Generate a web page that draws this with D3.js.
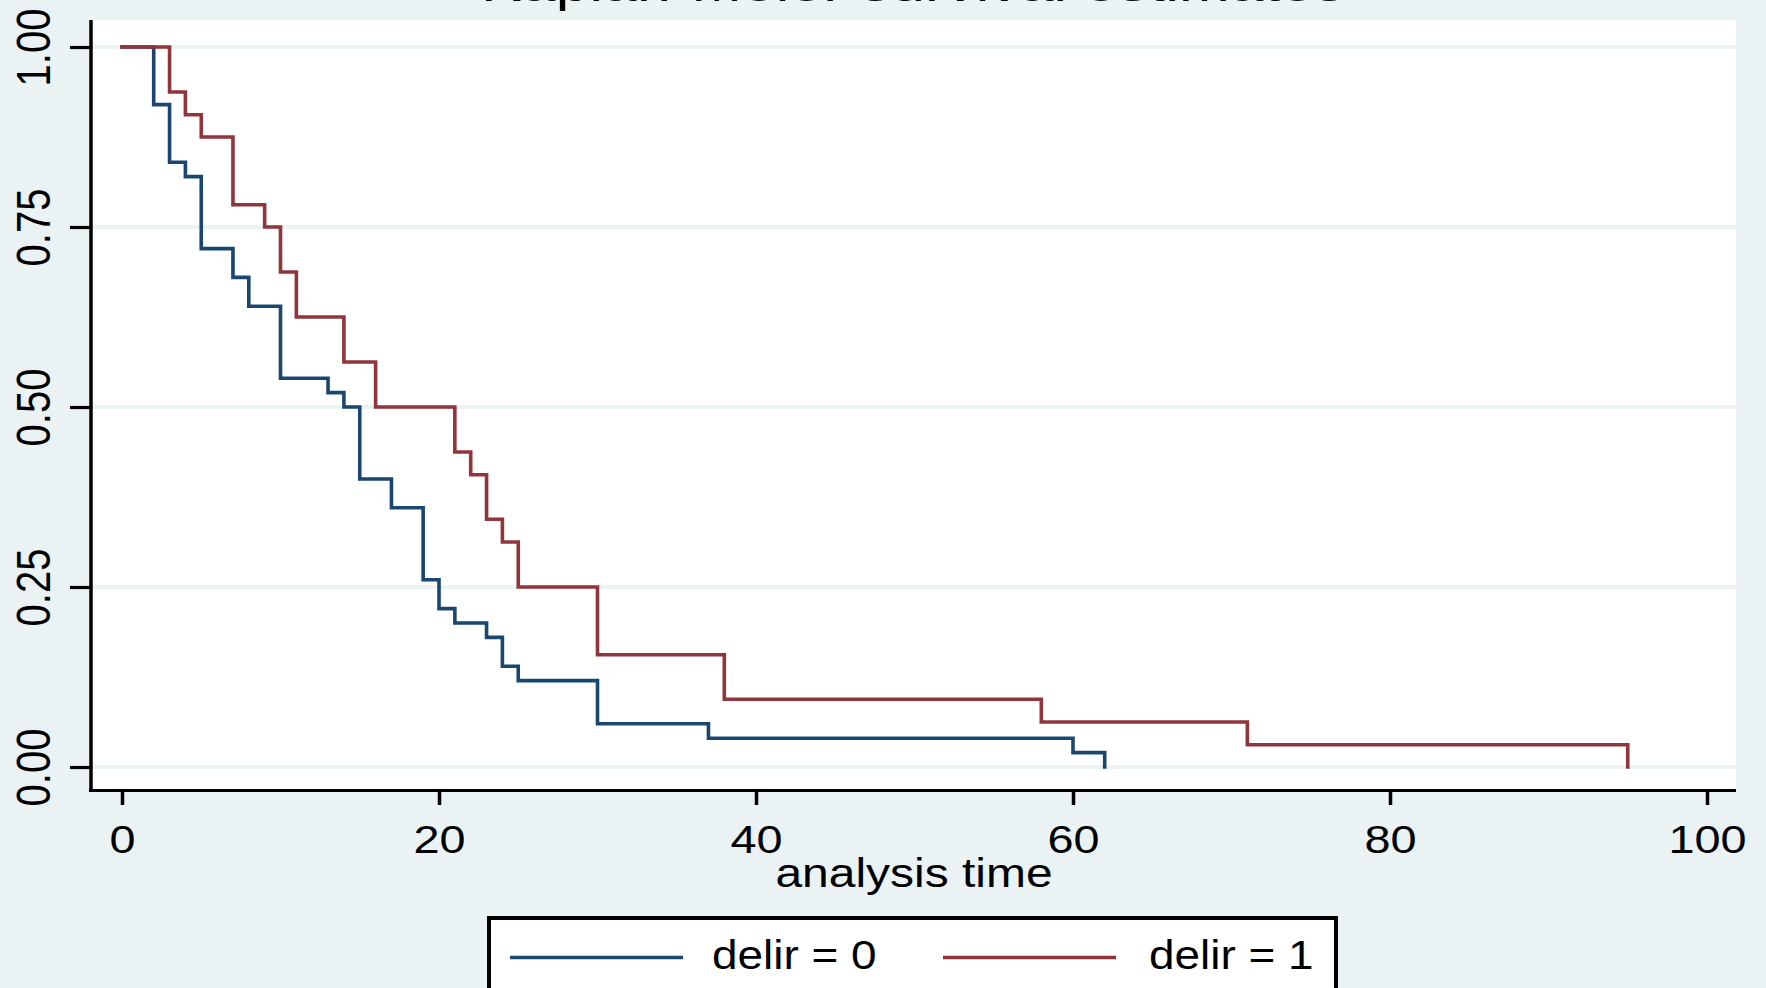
<!DOCTYPE html>
<html><head><meta charset="utf-8">
<script src="https://cdn.jsdelivr.net/npm/d3@7"></script>
<style>html,body{margin:0;padding:0;background:#EAF2F3;} svg{display:block}</style>
</head><body><svg id="c" width="1766" height="988"></svg>
<script>
// ---- data ----
const timesDelir0 = [0, 2, 3, 4, 5, 7, 8, 10, 13, 14, 15, 17, 19, 20, 21, 23, 24, 25, 30, 37, 60, 62];
const survDelir0  = [1, 0.92, 0.84, 0.82, 0.72, 0.68, 0.64, 0.54, 0.52, 0.50, 0.40, 0.36, 0.26, 0.22, 0.20, 0.18, 0.14, 0.12, 0.06, 0.04, 0.02, 0];
const timesDelir1 = [0, 3, 4, 5, 7, 9, 10, 11, 14, 16, 21, 22, 23, 24, 25, 30, 38, 58, 71, 95];
const survDelir1  = [1, 0.9375, 0.906, 0.875, 0.781, 0.75, 0.6875, 0.625, 0.5625, 0.5, 0.4375, 0.406, 0.344, 0.3125, 0.25, 0.156, 0.094, 0.0625, 0.031, 0];
const seriesLabels = ["delir = 0", "delir = 1"];
const xTicks = [0, 20, 40, 60, 80, 100];
const yTicks = [0, 0.25, 0.5, 0.75, 1];
const titleText = "Kaplan-Meier survival estimates";
const xTitle = "analysis time";

// ---- layout ----
const W = 1766, H = 988;
const bg = "#EAF2F3";
const plot = {left: 92, right: 1736, top: 20, bottom: 790};
const colors = ["#1a476f", "#90353b"];
const font = "'Liberation Sans', Arial, Helvetica, sans-serif";

const svg = d3.select("#c");
svg.append("rect").attr("width", W).attr("height", H).attr("fill", bg);
svg.append("rect").attr("x", plot.left).attr("y", plot.top)
  .attr("width", plot.right - plot.left).attr("height", plot.bottom - plot.top).attr("fill", "#fff");

const x = d3.scaleLinear().domain([0, 100]).range([122, 1707]);
const y = d3.scaleLinear().domain([0, 1]).range([767, 47]);

// grid
svg.append("g").selectAll("line").data(yTicks).join("line")
  .attr("x1", plot.left).attr("x2", plot.right)
  .attr("y1", d => y(d)).attr("y2", d => y(d))
  .attr("stroke", bg).attr("stroke-width", 4);

// curves
const series = [
  timesDelir0.map((t, i) => [t, survDelir0[i]]),
  timesDelir1.map((t, i) => [t, survDelir1[i]])
];
const line = d3.line().x(d => x(d[0])).y(d => y(d[1])).curve(d3.curveStepAfter);
svg.append("g").selectAll("path").data(series).join("path")
  .attr("d", line).attr("fill", "none")
  .attr("stroke", (d, i) => colors[i]).attr("stroke-width", 3.6)
  .attr("stroke-linejoin", "miter").attr("stroke-linecap", "square");

// x axis
const gx = svg.append("g").attr("transform", `translate(0,${plot.bottom})`)
  .call(d3.axisBottom(x).tickValues(xTicks).tickSize(15).tickSizeOuter(0).tickFormat(d3.format("d")));
gx.select(".domain").remove();
gx.selectAll(".tick line").attr("stroke", "#000").attr("stroke-width", 3.5);
gx.selectAll(".tick text").attr("y", null).attr("dy", null)
  .attr("transform", "translate(0,63) scale(1.2,1)")
  .attr("font-size", 39).attr("font-family", font).attr("fill", "#000");

// y axis
const gy = svg.append("g").attr("transform", `translate(90,0)`)
  .call(d3.axisLeft(y).tickValues(yTicks).tickSize(20).tickSizeOuter(0).tickFormat(d3.format(".2f")));
gy.select(".domain").remove();
gy.selectAll(".tick line").attr("stroke", "#000").attr("stroke-width", 3.2);
gy.selectAll(".tick text").attr("x", null).attr("dy", null)
  .attr("text-anchor", "middle")
  .attr("transform", "translate(-40,0) scale(1.2,1) rotate(-90)")
  .attr("font-size", 40).attr("font-family", font).attr("fill", "#000");

// axis lines
svg.append("line").attr("x1", 91).attr("x2", 91).attr("y1", plot.top).attr("y2", plot.bottom + 1.5)
  .attr("stroke", "#000").attr("stroke-width", 3.5);
svg.append("line").attr("x1", 89).attr("x2", plot.right).attr("y1", plot.bottom + 0.5).attr("y2", plot.bottom + 0.5)
  .attr("stroke", "#000").attr("stroke-width", 3);

// axis title
svg.append("text").attr("transform", "translate(914,887) scale(1.17,1)")
  .attr("text-anchor", "middle").attr("font-size", 41).attr("font-family", font).attr("fill", "#000")
  .text(xTitle);

// title (mostly cut off at the top, as in the reference)
svg.append("text").attr("transform", "translate(913,0.5) scale(1.27,1)")
  .attr("text-anchor", "middle").attr("font-size", 48).attr("font-family", font).attr("fill", "#000")
  .text(titleText);

// legend
const lg = svg.append("g");
lg.append("rect").attr("x", 489).attr("y", 918).attr("width", 847).attr("height", 120)
  .attr("fill", "#fff").attr("stroke", "#000").attr("stroke-width", 4);
const keyX = [510, 943];
const items = lg.selectAll("g.item").data(seriesLabels).join("g").attr("class", "item");
items.append("line").attr("x1", (d, i) => keyX[i]).attr("x2", (d, i) => keyX[i] + 173)
  .attr("y1", 957.5).attr("y2", 957.5).attr("stroke", (d, i) => colors[i]).attr("stroke-width", 3.5);
items.append("text").attr("transform", (d, i) => `translate(${keyX[i] + 202 + i * 4},969) scale(1.12,1)`)
  .attr("font-size", 41).attr("font-family", font).attr("fill", "#000").text(d => d);
</script></body></html>
